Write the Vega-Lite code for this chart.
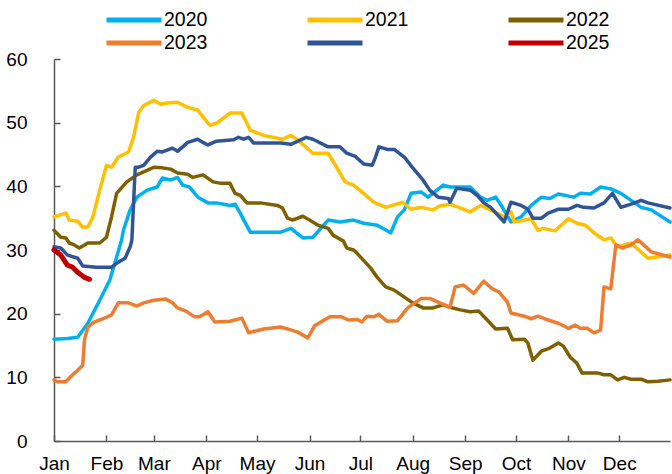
{
 "$schema": "https://vega.github.io/schema/vega-lite/v6.json",
 "width": 616, "height": 382,
 "autosize": {"type": "none"},
 "padding": {"left": 54, "top": 59, "right": 2, "bottom": 33},
 "background": "white",
 "config": {"view": {"stroke": null}, "font": "Liberation Sans"},
 "datasets": {
  "s": [
   {"year":"2020","d":0,"v":16.0},{"year":"2020","d":8,"v":16.1},{"year":"2020","d":14,"v":16.3},{"year":"2020","d":20,"v":18.5},{"year":"2020","d":27,"v":22.1},{"year":"2020","d":33,"v":25.3},{"year":"2020","d":37,"v":28.9},{"year":"2020","d":40,"v":31.6},{"year":"2020","d":41,"v":33.1},{"year":"2020","d":45,"v":36.3},{"year":"2020","d":49,"v":38.3},{"year":"2020","d":55,"v":39.4},{"year":"2020","d":61,"v":39.9},{"year":"2020","d":64,"v":41.3},{"year":"2020","d":69,"v":41.0},{"year":"2020","d":73,"v":41.4},{"year":"2020","d":76,"v":40.2},{"year":"2020","d":80,"v":39.9},{"year":"2020","d":85,"v":38.3},{"year":"2020","d":91,"v":37.4},{"year":"2020","d":96,"v":37.4},{"year":"2020","d":104,"v":37.0},{"year":"2020","d":107,"v":37.2},{"year":"2020","d":110,"v":35.8},{"year":"2020","d":116,"v":32.8},{"year":"2020","d":134,"v":32.8},{"year":"2020","d":140,"v":33.4},{"year":"2020","d":147,"v":31.9},{"year":"2020","d":153,"v":32.0},{"year":"2020","d":162,"v":34.7},{"year":"2020","d":169,"v":34.4},{"year":"2020","d":177,"v":34.7},{"year":"2020","d":183,"v":34.2},{"year":"2020","d":191,"v":33.9},{"year":"2020","d":199,"v":32.7},{"year":"2020","d":203,"v":35.2},{"year":"2020","d":207,"v":36.3},{"year":"2020","d":211,"v":38.9},{"year":"2020","d":217,"v":39.1},{"year":"2020","d":221,"v":38.3},{"year":"2020","d":230,"v":40.2},{"year":"2020","d":234,"v":39.9},{"year":"2020","d":246,"v":39.9},{"year":"2020","d":252,"v":38.3},{"year":"2020","d":256,"v":37.8},{"year":"2020","d":261,"v":38.3},{"year":"2020","d":265,"v":36.7},{"year":"2020","d":270,"v":34.4},{"year":"2020","d":276,"v":35.2},{"year":"2020","d":282,"v":37.0},{"year":"2020","d":288,"v":38.3},{"year":"2020","d":293,"v":38.1},{"year":"2020","d":298,"v":38.8},{"year":"2020","d":307,"v":38.3},{"year":"2020","d":311,"v":38.9},{"year":"2020","d":317,"v":38.8},{"year":"2020","d":323,"v":39.9},{"year":"2020","d":329,"v":39.6},{"year":"2020","d":335,"v":38.9},{"year":"2020","d":341,"v":37.8},{"year":"2020","d":347,"v":36.7},{"year":"2020","d":353,"v":36.3},{"year":"2020","d":364,"v":34.4},
   {"year":"2021","d":0,"v":35.2},{"year":"2021","d":7,"v":35.8},{"year":"2021","d":9,"v":34.7},{"year":"2021","d":14,"v":34.5},{"year":"2021","d":17,"v":33.6},{"year":"2021","d":20,"v":33.6},{"year":"2021","d":23,"v":35.2},{"year":"2021","d":27,"v":39.4},{"year":"2021","d":31,"v":43.3},{"year":"2021","d":34,"v":43.0},{"year":"2021","d":38,"v":44.6},{"year":"2021","d":44,"v":45.4},{"year":"2021","d":47,"v":47.7},{"year":"2021","d":50,"v":51.6},{"year":"2021","d":53,"v":52.7},{"year":"2021","d":59,"v":53.5},{"year":"2021","d":63,"v":52.9},{"year":"2021","d":67,"v":53.1},{"year":"2021","d":73,"v":53.2},{"year":"2021","d":79,"v":52.4},{"year":"2021","d":85,"v":52.0},{"year":"2021","d":88,"v":50.9},{"year":"2021","d":92,"v":49.6},{"year":"2021","d":96,"v":49.9},{"year":"2021","d":104,"v":51.5},{"year":"2021","d":111,"v":51.5},{"year":"2021","d":116,"v":48.8},{"year":"2021","d":124,"v":48.0},{"year":"2021","d":135,"v":47.4},{"year":"2021","d":140,"v":48.0},{"year":"2021","d":144,"v":47.3},{"year":"2021","d":153,"v":45.2},{"year":"2021","d":162,"v":45.2},{"year":"2021","d":167,"v":43.0},{"year":"2021","d":172,"v":40.7},{"year":"2021","d":177,"v":40.2},{"year":"2021","d":183,"v":38.9},{"year":"2021","d":189,"v":37.5},{"year":"2021","d":196,"v":36.7},{"year":"2021","d":206,"v":37.5},{"year":"2021","d":211,"v":36.4},{"year":"2021","d":217,"v":36.7},{"year":"2021","d":224,"v":36.3},{"year":"2021","d":228,"v":36.9},{"year":"2021","d":234,"v":37.2},{"year":"2021","d":240,"v":36.6},{"year":"2021","d":246,"v":36.0},{"year":"2021","d":252,"v":37.0},{"year":"2021","d":258,"v":36.3},{"year":"2021","d":266,"v":35.2},{"year":"2021","d":270,"v":36.0},{"year":"2021","d":272,"v":34.4},{"year":"2021","d":282,"v":34.9},{"year":"2021","d":286,"v":33.1},{"year":"2021","d":289,"v":33.4},{"year":"2021","d":296,"v":33.0},{"year":"2021","d":304,"v":34.9},{"year":"2021","d":309,"v":34.2},{"year":"2021","d":314,"v":33.9},{"year":"2021","d":319,"v":32.7},{"year":"2021","d":325,"v":31.6},{"year":"2021","d":329,"v":31.9},{"year":"2021","d":333,"v":30.5},{"year":"2021","d":341,"v":31.1},{"year":"2021","d":351,"v":28.7},{"year":"2021","d":364,"v":29.2},
   {"year":"2022","d":0,"v":33.1},{"year":"2022","d":4,"v":32.0},{"year":"2022","d":7,"v":31.9},{"year":"2022","d":9,"v":31.1},{"year":"2022","d":12,"v":30.8},{"year":"2022","d":15,"v":30.3},{"year":"2022","d":20,"v":31.1},{"year":"2022","d":27,"v":31.1},{"year":"2022","d":31,"v":32.0},{"year":"2022","d":34,"v":35.2},{"year":"2022","d":37,"v":38.9},{"year":"2022","d":43,"v":40.7},{"year":"2022","d":49,"v":41.8},{"year":"2022","d":55,"v":42.5},{"year":"2022","d":59,"v":43.0},{"year":"2022","d":64,"v":42.9},{"year":"2022","d":69,"v":42.7},{"year":"2022","d":73,"v":42.1},{"year":"2022","d":79,"v":41.9},{"year":"2022","d":82,"v":41.4},{"year":"2022","d":88,"v":41.8},{"year":"2022","d":94,"v":40.7},{"year":"2022","d":98,"v":40.5},{"year":"2022","d":104,"v":40.5},{"year":"2022","d":106,"v":39.4},{"year":"2022","d":107,"v":38.9},{"year":"2022","d":110,"v":38.6},{"year":"2022","d":114,"v":37.4},{"year":"2022","d":122,"v":37.4},{"year":"2022","d":132,"v":37.0},{"year":"2022","d":135,"v":36.6},{"year":"2022","d":138,"v":35.0},{"year":"2022","d":141,"v":34.7},{"year":"2022","d":147,"v":35.3},{"year":"2022","d":151,"v":34.7},{"year":"2022","d":156,"v":33.9},{"year":"2022","d":162,"v":33.4},{"year":"2022","d":165,"v":32.3},{"year":"2022","d":171,"v":31.4},{"year":"2022","d":173,"v":30.3},{"year":"2022","d":177,"v":30.0},{"year":"2022","d":179,"v":29.5},{"year":"2022","d":187,"v":27.2},{"year":"2022","d":191,"v":25.7},{"year":"2022","d":196,"v":24.2},{"year":"2022","d":201,"v":23.7},{"year":"2022","d":207,"v":22.6},{"year":"2022","d":212,"v":21.7},{"year":"2022","d":218,"v":20.9},{"year":"2022","d":224,"v":20.9},{"year":"2022","d":230,"v":21.4},{"year":"2022","d":234,"v":21.0},{"year":"2022","d":240,"v":20.6},{"year":"2022","d":246,"v":20.3},{"year":"2022","d":251,"v":20.4},{"year":"2022","d":256,"v":19.0},{"year":"2022","d":261,"v":17.6},{"year":"2022","d":268,"v":17.7},{"year":"2022","d":271,"v":15.9},{"year":"2022","d":278,"v":16.0},{"year":"2022","d":280,"v":15.4},{"year":"2022","d":283,"v":12.7},{"year":"2022","d":288,"v":14.1},{"year":"2022","d":293,"v":14.6},{"year":"2022","d":298,"v":15.4},{"year":"2022","d":301,"v":14.9},{"year":"2022","d":305,"v":13.2},{"year":"2022","d":309,"v":12.2},{"year":"2022","d":312,"v":10.7},{"year":"2022","d":321,"v":10.7},{"year":"2022","d":325,"v":10.4},{"year":"2022","d":329,"v":10.4},{"year":"2022","d":333,"v":9.6},{"year":"2022","d":337,"v":10.0},{"year":"2022","d":341,"v":9.7},{"year":"2022","d":347,"v":9.7},{"year":"2022","d":351,"v":9.3},{"year":"2022","d":357,"v":9.4},{"year":"2022","d":364,"v":9.6},
   {"year":"2023","d":0,"v":9.6},{"year":"2023","d":2,"v":9.3},{"year":"2023","d":7,"v":9.3},{"year":"2023","d":11,"v":10.4},{"year":"2023","d":14,"v":11.1},{"year":"2023","d":17,"v":11.9},{"year":"2023","d":18,"v":15.9},{"year":"2023","d":20,"v":17.9},{"year":"2023","d":24,"v":18.7},{"year":"2023","d":29,"v":19.2},{"year":"2023","d":34,"v":19.8},{"year":"2023","d":38,"v":21.7},{"year":"2023","d":44,"v":21.7},{"year":"2023","d":49,"v":21.2},{"year":"2023","d":53,"v":21.7},{"year":"2023","d":59,"v":22.1},{"year":"2023","d":66,"v":22.3},{"year":"2023","d":70,"v":21.7},{"year":"2023","d":73,"v":20.9},{"year":"2023","d":78,"v":20.4},{"year":"2023","d":83,"v":19.5},{"year":"2023","d":86,"v":19.5},{"year":"2023","d":91,"v":20.3},{"year":"2023","d":95,"v":18.7},{"year":"2023","d":104,"v":18.8},{"year":"2023","d":111,"v":19.3},{"year":"2023","d":115,"v":17.0},{"year":"2023","d":124,"v":17.6},{"year":"2023","d":134,"v":17.9},{"year":"2023","d":138,"v":17.6},{"year":"2023","d":144,"v":17.1},{"year":"2023","d":150,"v":16.2},{"year":"2023","d":154,"v":18.1},{"year":"2023","d":163,"v":19.5},{"year":"2023","d":170,"v":19.5},{"year":"2023","d":174,"v":19.0},{"year":"2023","d":179,"v":19.1},{"year":"2023","d":182,"v":18.7},{"year":"2023","d":185,"v":19.6},{"year":"2023","d":189,"v":19.5},{"year":"2023","d":192,"v":19.9},{"year":"2023","d":197,"v":18.8},{"year":"2023","d":203,"v":18.9},{"year":"2023","d":209,"v":20.9},{"year":"2023","d":217,"v":22.4},{"year":"2023","d":222,"v":22.4},{"year":"2023","d":228,"v":21.7},{"year":"2023","d":234,"v":21.0},{"year":"2023","d":237,"v":24.2},{"year":"2023","d":242,"v":24.5},{"year":"2023","d":248,"v":23.2},{"year":"2023","d":254,"v":25.1},{"year":"2023","d":259,"v":23.9},{"year":"2023","d":263,"v":23.4},{"year":"2023","d":268,"v":21.8},{"year":"2023","d":270,"v":20.1},{"year":"2023","d":278,"v":19.6},{"year":"2023","d":282,"v":19.2},{"year":"2023","d":286,"v":19.6},{"year":"2023","d":292,"v":19.0},{"year":"2023","d":298,"v":18.5},{"year":"2023","d":304,"v":17.7},{"year":"2023","d":308,"v":18.2},{"year":"2023","d":311,"v":17.7},{"year":"2023","d":315,"v":17.7},{"year":"2023","d":319,"v":17.0},{"year":"2023","d":323,"v":17.4},{"year":"2023","d":325,"v":24.2},{"year":"2023","d":329,"v":23.9},{"year":"2023","d":332,"v":30.8},{"year":"2023","d":336,"v":30.3},{"year":"2023","d":341,"v":30.8},{"year":"2023","d":345,"v":31.6},{"year":"2023","d":353,"v":29.7},{"year":"2023","d":364,"v":28.9},
   {"year":"2024","d":0,"v":30.5},{"year":"2024","d":4,"v":30.3},{"year":"2024","d":8,"v":29.2},{"year":"2024","d":14,"v":28.7},{"year":"2024","d":17,"v":27.5},{"year":"2024","d":25,"v":27.3},{"year":"2024","d":34,"v":27.3},{"year":"2024","d":37,"v":27.9},{"year":"2024","d":42,"v":28.7},{"year":"2024","d":45,"v":30.5},{"year":"2024","d":46,"v":31.5},{"year":"2024","d":48,"v":43.0},{"year":"2024","d":50,"v":43.0},{"year":"2024","d":53,"v":43.3},{"year":"2024","d":57,"v":44.6},{"year":"2024","d":61,"v":45.5},{"year":"2024","d":64,"v":45.4},{"year":"2024","d":70,"v":46.0},{"year":"2024","d":73,"v":45.5},{"year":"2024","d":79,"v":46.9},{"year":"2024","d":85,"v":47.4},{"year":"2024","d":88,"v":46.9},{"year":"2024","d":91,"v":46.5},{"year":"2024","d":96,"v":47.1},{"year":"2024","d":106,"v":47.3},{"year":"2024","d":109,"v":47.7},{"year":"2024","d":112,"v":47.4},{"year":"2024","d":115,"v":47.7},{"year":"2024","d":118,"v":46.8},{"year":"2024","d":124,"v":46.8},{"year":"2024","d":134,"v":46.8},{"year":"2024","d":140,"v":46.6},{"year":"2024","d":149,"v":47.7},{"year":"2024","d":153,"v":47.4},{"year":"2024","d":162,"v":46.2},{"year":"2024","d":169,"v":46.2},{"year":"2024","d":173,"v":45.2},{"year":"2024","d":178,"v":44.7},{"year":"2024","d":183,"v":43.5},{"year":"2024","d":188,"v":43.3},{"year":"2024","d":190,"v":44.6},{"year":"2024","d":192,"v":46.2},{"year":"2024","d":197,"v":45.8},{"year":"2024","d":201,"v":45.8},{"year":"2024","d":207,"v":44.6},{"year":"2024","d":212,"v":42.9},{"year":"2024","d":218,"v":41.0},{"year":"2024","d":222,"v":39.4},{"year":"2024","d":227,"v":38.3},{"year":"2024","d":233,"v":38.1},{"year":"2024","d":234,"v":37.5},{"year":"2024","d":238,"v":39.7},{"year":"2024","d":246,"v":39.4},{"year":"2024","d":250,"v":38.6},{"year":"2024","d":254,"v":37.4},{"year":"2024","d":258,"v":36.7},{"year":"2024","d":266,"v":34.4},{"year":"2024","d":270,"v":37.5},{"year":"2024","d":276,"v":37.0},{"year":"2024","d":280,"v":36.4},{"year":"2024","d":283,"v":35.0},{"year":"2024","d":288,"v":35.0},{"year":"2024","d":292,"v":35.8},{"year":"2024","d":298,"v":36.4},{"year":"2024","d":304,"v":36.4},{"year":"2024","d":309,"v":37.0},{"year":"2024","d":313,"v":36.7},{"year":"2024","d":319,"v":36.6},{"year":"2024","d":325,"v":37.4},{"year":"2024","d":330,"v":38.9},{"year":"2024","d":335,"v":36.7},{"year":"2024","d":341,"v":37.2},{"year":"2024","d":347,"v":37.8},{"year":"2024","d":351,"v":37.4},{"year":"2024","d":364,"v":36.6},
   {"year":"2025","d":0,"v":30.0},{"year":"2025","d":4,"v":29.2},{"year":"2025","d":8,"v":27.6},{"year":"2025","d":11,"v":27.3},{"year":"2025","d":14,"v":26.5},{"year":"2025","d":18,"v":25.7},{"year":"2025","d":21,"v":25.4}
  ]
 },
 "data": {"name": "s"},
 "mark": {"type": "line", "strokeCap": "round", "strokeJoin": "round"},
 "encoding": {
  "x": {"field": "d", "type": "quantitative",
   "scale": {"domain": [0, 364], "nice": false, "zero": false},
   "axis": {"title": null, "grid": false, "values": [0,31,59,90,120,151,181,212,243,273,304,334],
    "labelExpr": "timeFormat(datetime(2019,0,1+datum.value),'%b')",
    "domainColor": "#595959", "domainWidth": 1.5, "tickColor": "#595959", "tickWidth": 1.5, "tickSize": -6,
    "labelFontSize": 19, "labelColor": "#000000", "labelPadding": 19, "labelFlush": false, "labelOverlap": false}},
  "y": {"field": "v", "type": "quantitative",
   "scale": {"domain": [0, 60], "nice": false},
   "axis": {"title": null, "grid": false, "values": [0,10,20,30,40,50,60],
    "domainColor": "#595959", "domainWidth": 1.5, "tickColor": "#595959", "tickWidth": 1.5, "tickSize": -6,
    "labelFontSize": 19, "labelColor": "#000000", "labelPadding": 33, "labelOverlap": false}},
  "color": {"field": "year", "type": "nominal",
   "scale": {"domain": ["2020","2021","2022","2023","2024","2025"],
             "range": ["#00B0F0","#FFC000","#7F6000","#ED7D31","#2F5597","#C00000"]},
   "legend": {"title": null, "orient": "none", "legendX": 50, "legendY": -49, "direction": "horizontal", "columns": 3,
    "symbolType": "stroke", "symbolSize": 3025, "symbolStrokeWidth": 5, "clipHeight": 20,
    "labelFontSize": 19.5, "labelColor": "#000000", "labelOffset": 0, "columnPadding": 97, "rowPadding": 3, "padding": 0,
    "labelExpr": "datum.label == '2024' ? '' : datum.label"}},
  "strokeWidth": {"condition": {"test": "datum.year === '2025'", "value": 5}, "value": 3.5}
 }
}
